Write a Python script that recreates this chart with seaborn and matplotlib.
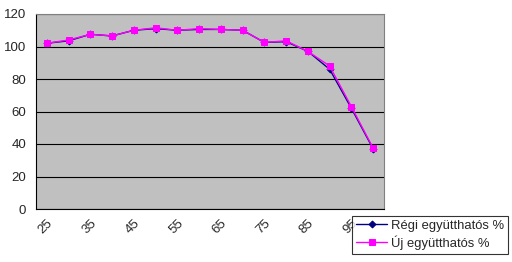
import matplotlib
matplotlib.use("Agg")
import matplotlib.pyplot as plt
import seaborn as sns
import pandas as pd

categories = ["25", "30", "35", "40", "45", "50", "55", "60", "65", "70", "75", "80", "85", "90", "95", "100"]
regi = [102, 103.5, 107.5, 106.5, 110, 111, 110, 110.5, 110.5, 110, 102.5, 103, 97, 86, 62, 37]
uj = [102, 104, 107.5, 106.5, 110, 111.5, 110, 111, 110.5, 110, 102.5, 103.5, 97, 88, 63, 37.5]
series_names = ["Régi együtthatós %", "Új együtthatós %"]
yticks = [0, 20, 40, 60, 80, 100, 120]

sns.set_style("white")
plt.rcParams["font.family"] = ["Liberation Sans", "DejaVu Sans"]

fig = plt.figure(figsize=(5.12, 2.62), dpi=100)
ax = fig.add_axes([36/512, 1 - 209/262, (384-36)/512, (209-14)/262])
ax.set_facecolor("#C0C0C0")

pos = list(range(len(categories)))
df = pd.DataFrame({
    "pos": pos * 2,
    "val": regi + uj,
    "series": [series_names[0]] * len(pos) + [series_names[1]] * len(pos),
})

sns.lineplot(data=df[df.series == series_names[0]], x="pos", y="val", ax=ax,
             color="#000080", marker="D", markersize=3.5, linewidth=1.0,
             markeredgecolor="#000080", label=series_names[0], zorder=3)
sns.lineplot(data=df[df.series == series_names[1]], x="pos", y="val", ax=ax,
             color="#FF00FF", marker="s", markersize=5, linewidth=1.0,
             markeredgecolor="#FF00FF", label=series_names[1], zorder=4)

ax.set_xlim(-0.5, len(categories) - 0.5)
ax.set_ylim(0, 120)
ax.set_yticks(yticks)
ax.set_yticklabels([str(v) for v in yticks], fontsize=9.5)
ax.yaxis.grid(True, color="black", linewidth=0.8)
ax.set_axisbelow(True)

# category boundaries as major ticks, labels at centers of every other category
ax.set_xticks([i - 0.5 for i in range(len(categories) + 1)])
ax.set_xticklabels([])
ax.set_xticks(pos[::2], minor=True)
ax.set_xticklabels(categories[::2], minor=True, rotation=45, ha="right", va="top",
                   rotation_mode="anchor", fontsize=9.5)
ax.tick_params(axis="x", which="minor", length=0, pad=6)
ax.tick_params(axis="x", which="major", length=4, direction="out", color="black", width=0.8)
ax.tick_params(axis="y", length=4, direction="out", color="black", width=0.8, pad=3)
ax.set_xlabel("")
ax.set_ylabel("")

for side in ["top", "right"]:
    ax.spines[side].set_color("#808080")
    ax.spines[side].set_linewidth(0.8)
for side in ["left", "bottom"]:
    ax.spines[side].set_color("black")
    ax.spines[side].set_linewidth(0.8)

leg = ax.legend(loc="upper left", bbox_to_anchor=(352/512, 1 - 216/262),
                bbox_transform=fig.transFigure, frameon=True, fancybox=False,
                fontsize=9.4, borderpad=0.3, handlelength=2.4, handletextpad=0.3,
                labelspacing=0.25, borderaxespad=0)
leg.get_frame().set_edgecolor("black")
leg.get_frame().set_linewidth(0.8)

fig.savefig("out.png", dpi=100, facecolor="white")
